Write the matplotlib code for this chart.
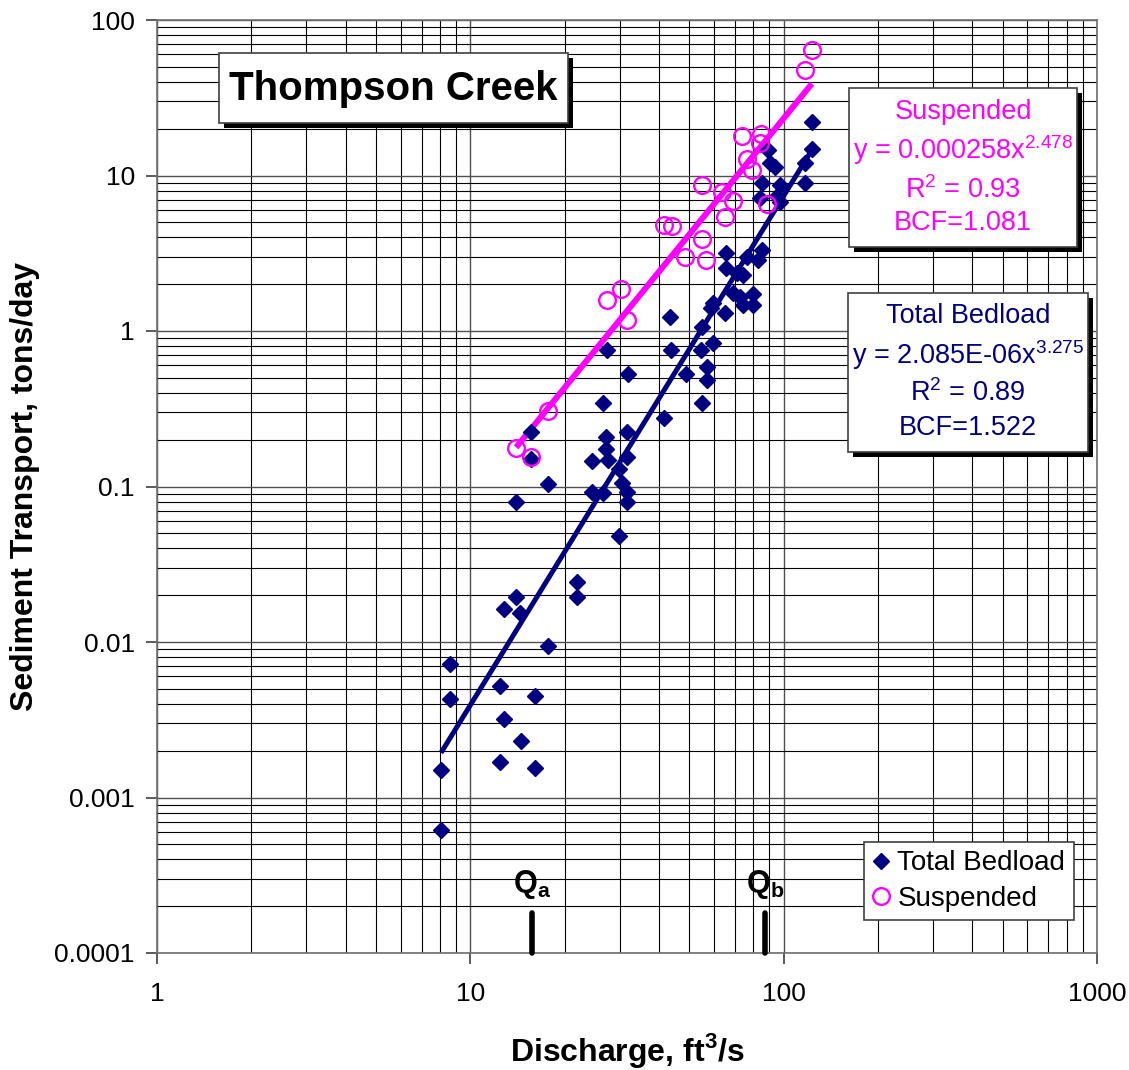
import numpy as np
import matplotlib
matplotlib.use("Agg")
import matplotlib.pyplot as plt
from matplotlib.patches import Rectangle
from matplotlib.lines import Line2D

plt.rcParams["font.family"] = ["Liberation Sans", "DejaVu Sans"]
plt.rcParams["mathtext.fontset"] = "custom"
plt.rcParams["mathtext.rm"] = "Liberation Sans"
plt.rcParams["mathtext.bf"] = "Liberation Sans:bold"

NAVY = "#000080"
PINK = "#ff00ff"

# ── data ──────────────────────────────────────────────────────────────────────
bed_q = [8.06, 8.06, 8.61, 8.61, 12.4, 12.4, 12.8, 14.5, 16.1, 16.1,
         17.7, 12.8, 14.4, 14.0, 21.9, 21.9, 14.0, 17.7, 15.6, 15.6,
         26.5, 31.9, 41.5, 31.6, 27.1, 27.1, 24.5, 27.5, 31.6, 29.8,
         24.5, 26.5, 30.5, 31.6, 31.6, 29.8, 27.3, 43.4, 43.8, 48.8,
         54.9, 56.9, 56.9, 54.5, 59.5, 54.9, 58.6, 65.0, 72.6, 79.9,
         79.9, 74.2, 65.5, 65.5, 74.2, 76.4, 85.3, 82.8, 84.2, 97.4,
         117, 123, 123, 117, 89.2, 93.9, 85.3, 97.4, 69.0, 59.5,
         95.3, 90.5, 71.0]
bed_t = [0.00062, 0.0015, 0.0072, 0.0043, 0.0017, 0.0052, 0.0032, 0.0023, 0.0045, 0.00155,
         0.0094, 0.0163, 0.0154, 0.0195, 0.0243, 0.0195, 0.079, 0.104, 0.150, 0.224,
         0.344, 0.53, 0.276, 0.224, 0.208, 0.174, 0.146, 0.148, 0.155, 0.130,
         0.092, 0.091, 0.105, 0.092, 0.079, 0.048, 0.76, 1.23, 0.755, 0.53,
         0.344, 0.587, 0.484, 0.755, 0.837, 1.06, 1.41, 1.31, 1.66, 1.72,
         1.47, 1.47, 2.54, 3.18, 2.29, 2.99, 3.32, 2.86, 7.16, 6.76,
         8.95, 22.1, 14.8, 12.0, 14.6, 11.3, 8.95, 8.7, 1.75, 1.51,
         7.4, 12.0, 2.36]

sus_q = [14.0, 15.6, 17.7, 27.3, 30.3, 31.6, 41.5, 44.0, 48.4, 54.9,
         56.5, 54.9, 65.0, 69.0, 63.6, 73.6, 84.7, 84.2, 76.4, 79.3,
         88.5, 117, 123]
sus_t = [0.177, 0.155, 0.306, 1.58, 1.86, 1.18, 4.8, 4.7, 2.99, 3.9,
         2.86, 8.7, 5.41, 6.86, 7.83, 17.9, 18.5, 16.2, 12.8, 10.8,
         6.56, 47.7, 64.1]

# power-law trendlines shown on the chart
bed_a, bed_b = 2.085e-06, 3.275
sus_a, sus_b = 0.000258, 2.478

q_marks = {"a": 15.7, "b": 87.2}

x_ticks = [1, 10, 100, 1000]
x_labels = ["1", "10", "100", "1000"]
y_ticks = [1e-4, 1e-3, 1e-2, 1e-1, 1, 10, 100]
y_labels = ["0.0001", "0.001", "0.01", "0.1", "1", "10", "100"]

# ── figure ────────────────────────────────────────────────────────────────────
W, H = 1129, 1070
fig = plt.figure(figsize=(W / 100, H / 100), dpi=100, facecolor="white")
ax = fig.add_axes([157 / W, 1 - 953 / H, 940 / W, 933 / H])


def fx(px):
    return px / W


def fy(py):
    return 1 - py / H


ax.set_xscale("log")
ax.set_yscale("log")
ax.set_xlim(1, 1000)
ax.set_ylim(1e-4, 100)

ax.grid(True, which="minor", color="black", lw=0.8)
ax.grid(True, which="major", color="#505050", lw=1.0)
ax.set_axisbelow(True)

ax.set_xticks(x_ticks, x_labels)
ax.set_yticks(y_ticks, y_labels)
ax.tick_params(which="major", length=8, width=1.2, color="#404040", labelsize=19)
ax.tick_params(axis="x", which="major", pad=13)
ax.tick_params(axis="y", which="major", pad=8)
ax.tick_params(which="minor", length=0)
for sp in ax.spines.values():
    sp.set_edgecolor("#707070")
    sp.set_linewidth(1.2)

# fit lines
xb = np.geomspace(min(bed_q), max(bed_q), 50)
xs = np.geomspace(min(sus_q), max(sus_q), 50)
ax.plot(xb, bed_a * xb ** bed_b, color=NAVY, lw=3.6, solid_capstyle="butt", zorder=3)
ax.plot(xs, sus_a * xs ** sus_b, color=PINK, lw=4.3, solid_capstyle="butt", zorder=3)

ax.plot(bed_q, bed_t, ls="none", marker="D", ms=8.6, color=NAVY, mec=NAVY, zorder=4)
ax.plot(sus_q, sus_t, ls="none", marker="o", ms=12, mfc="none", mec=PINK, mew=1.7, zorder=5)

# Qa / Qb markers
for key, q in q_marks.items():
    ax.plot([q, q], [1e-4, 1.8e-4], color="black", lw=4, solid_capstyle="round",
            clip_on=False, zorder=6)
    ax.text(q, 2.75e-4, rf"$\mathbf{{Q}}_\mathbf{{{key}}}$", ha="center", va="center",
            fontsize=22, zorder=6)

ax.set_xlabel(r"Discharge, ft$^\mathbf{3}$/s", fontsize=23, fontweight="bold", va="center")
ax.set_ylabel("Sediment Transport, tons/day", fontsize=23, fontweight="bold", va="center")
ax.xaxis.set_label_coords(0.5, (953 - 1051) / 933)
ax.yaxis.set_label_coords((25 - 157) / 940, 0.5)


def shadow_box(x0, y0, x1, y1, off=5):
    fig.add_artist(Rectangle((fx(x0 + off), fy(y1 + off)), fx(x1 - x0), (y1 - y0) / H,
                             transform=fig.transFigure, facecolor="black",
                             edgecolor="none", zorder=7))
    fig.add_artist(Rectangle((fx(x0), fy(y1)), fx(x1 - x0), (y1 - y0) / H,
                             transform=fig.transFigure, facecolor="white",
                             edgecolor="#404040", lw=1.2, zorder=8))


# title box
shadow_box(219, 53, 568, 123)
fig.text(fx(393), fy(89), "Thompson Creek", ha="center", va="center",
         fontsize=29, fontweight="bold", zorder=9)

# suspended equation box
shadow_box(849, 88, 1077, 247)
cx = fx(963)
for py, s in [(112, "Suspended"),
              (150, r"y = 0.000258x$^{2.478}$"),
              (190, r"R$^2$ = 0.93"),
              (223, "BCF=1.081")]:
    fig.text(cx, fy(py), s, ha="center", va="center", fontsize=19.5, color=PINK, zorder=9)

# bedload equation box
shadow_box(848, 293, 1088, 452)
cx = fx(968)
for py, s in [(316, "Total Bedload"),
              (355, r"y = 2.085E-06x$^{3.275}$"),
              (393, r"R$^2$ = 0.89"),
              (428, "BCF=1.522")]:
    fig.text(cx, fy(py), s, ha="center", va="center", fontsize=19.5, color=NAVY, zorder=9)

handles = [
    Line2D([], [], ls="none", marker="D", ms=8.6, color=NAVY, label="Total Bedload"),
    Line2D([], [], ls="none", marker="o", ms=12, mfc="none", mec=PINK, mew=1.7,
           label="Suspended"),
]
leg = fig.legend(handles=handles, loc="upper left", bbox_to_anchor=(fx(864), fy(842)),
                 fontsize=20, frameon=True, fancybox=False, framealpha=1,
                 edgecolor="#404040", handlelength=0.6, handletextpad=0.3,
                 borderpad=0.3, labelspacing=0.35, borderaxespad=0)
leg.get_frame().set_linewidth(1.2)

fig.savefig("out.png", dpi=100, facecolor="white")
